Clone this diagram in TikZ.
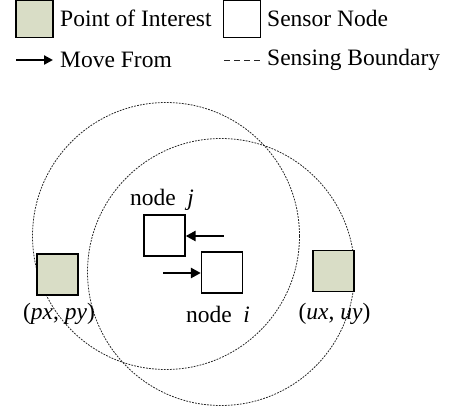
\documentclass[tikz,border=0pt]{standalone}
\usepackage{fontspec}
\setmainfont{Liberation Serif}
\usetikzlibrary{arrows.meta}
\definecolor{poi}{HTML}{D9DDC6}
\tikzset{
  poibox/.style={draw=black, fill=poi, line width=1.3pt, minimum size=41pt, inner sep=0pt},
  sensorbox/.style={draw=black, fill=white, line width=1.3pt, minimum size=41pt, inner sep=0pt},
  movearrow/.style={line width=2.7pt, -{Triangle[length=10pt,width=10pt]}},
  boundary/.style={draw=black!85, line width=0.8pt, dash pattern=on 1.8pt off 1.2pt},
  lbl/.style={font=\fontsize{23.5}{26}\selectfont, inner sep=0pt}
}
\begin{document}
\begin{tikzpicture}[x=1pt, y=-1pt]
\useasboundingbox (0,0) rectangle (456,408);

% sensing ranges
\draw[boundary] (166,236) circle (133.5);
\draw[boundary] (221,272) circle (133.5);

% legend
\node[poibox, minimum size=37pt] (lpoi) at (34.5,19) {};
\node[lbl, anchor=west] (lpoit) at (60,18) {Point of Interest};
\node[sensorbox, minimum size=37pt] (lsen) at (242,19) {};
\node[lbl, anchor=west] (lsent) at (267,18) {Sensor Node};
\coordinate (la0) at (16,60);
\coordinate (la1) at (53,60);
\draw[movearrow, -{Triangle[length=9pt,width=9pt]}] (la0) -- (la1);
\node[lbl, anchor=west] (lat) at (60,60) {Move From};
\coordinate (lb0) at (224,60);
\coordinate (lb1) at (262,60);
\draw[boundary, line width=0.9pt, dash pattern=on 6pt off 4pt] (lb0) -- (lb1);
\node[lbl, anchor=west] (lbt) at (267,60) {Sensing Boundary};

% points of interest
\node[poibox] (p) at (57.5,274.5) {};
\node[poibox] (u) at (333.5,271) {};
\node[lbl] (pt) at (59,314) {(\textit{px}, \textit{py})};
\node[lbl] (ut) at (334.5,314) {(\textit{ux}, \textit{uy})};

% sensor nodes
\node[sensorbox] (j) at (164.5,235.5) {};
\node[sensorbox] (i) at (222,272.5) {};
\node[lbl] (jt) at (162,200) {node \ \textit{j}};
\node[lbl] (it) at (218,314) {node \ \textit{i}};

% movements
\coordinate (ja) at (223.5,236);
\coordinate (ia) at (163,273);
\draw[movearrow] (ja) -- (j.east |- ja);
\draw[movearrow] (ia) -- (i.west |- ia);
\end{tikzpicture}
\end{document}
